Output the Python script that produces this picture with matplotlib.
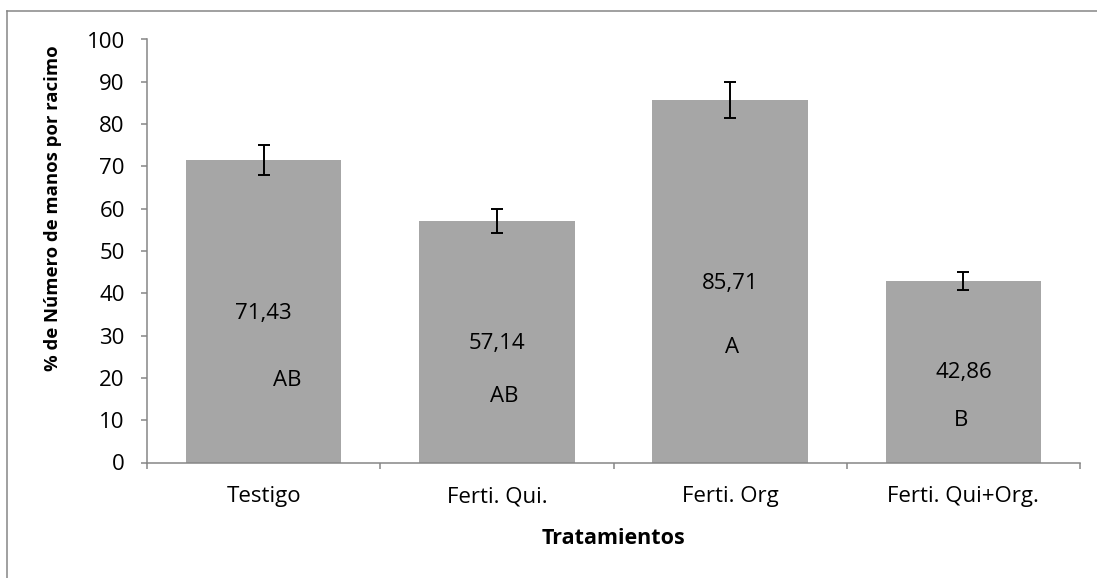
import matplotlib
matplotlib.use('Agg')
import matplotlib.pyplot as plt
from matplotlib.lines import Line2D

# Data
categories = ['Testigo', 'Ferti. Qui.', 'Ferti. Org', 'Ferti. Qui+Org.']
values = [71.43, 57.14, 85.71, 42.86]
errors = [3.57, 2.86, 4.29, 2.14]
value_labels = ['71,43', '57,14', '85,71', '42,86']
letters = ['AB', 'AB', 'A', 'B']

# where the text labels sit inside the bars (x offset, y in data units)
value_pos = [(0.0, 35.3), (0.0, 28.2), (0.0, 42.4), (0.0, 21.2)]
letter_pos = [(0.1, 19.5), (0.03, 15.5), (0.01, 27.3), (-0.01, 10.0)]

plt.rcParams['font.family'] = ['Open Sans', 'DejaVu Sans']
fs = 16

fig = plt.figure(figsize=(10.97, 5.78), dpi=100)
ax = fig.add_axes([147 / 1097, 1 - 462.5 / 578, (1080 - 147) / 1097, (462.5 - 39.5) / 578])

axis_color = '#868686'
x = list(range(len(categories)))
ax.bar(x, values, width=0.667, color='#a6a6a6', zorder=2)
ax.errorbar(x, values, yerr=errors, fmt='none', ecolor='black',
            elinewidth=1.4, capsize=4, capthick=1.4, zorder=3)

for i in x:
    ax.text(i + value_pos[i][0], value_pos[i][1], value_labels[i],
            ha='center', va='center', fontsize=fs, color='black', zorder=4)
    ax.text(i + letter_pos[i][0], letter_pos[i][1], letters[i],
            ha='center', va='center', fontsize=fs, color='black', zorder=4)

ax.set_xlim(-0.5, len(categories) - 0.5)
ax.set_ylim(0, 100)
ax.set_yticks(range(0, 101, 10))
ax.set_xticks(x)
ax.set_xticklabels(categories)
ax.set_xticks([i - 0.5 for i in range(len(categories) + 1)], minor=True)

for s in ['top', 'right']:
    ax.spines[s].set_visible(False)
for s in ['left', 'bottom']:
    ax.spines[s].set_color(axis_color)
    ax.spines[s].set_linewidth(1.1)

ax.tick_params(axis='y', direction='out', length=4, width=1.1, color=axis_color,
               labelsize=fs, pad=12, labelcolor='black')
ax.tick_params(axis='x', which='major', length=0, labelsize=fs, pad=17, labelcolor='black')
ax.tick_params(axis='x', which='minor', direction='out', length=4, width=1.1, color=axis_color)

fig.text(613 / 1097, 1 - 538 / 578, 'Tratamientos', ha='center', va='center',
         fontsize=15.5, fontweight='bold')
fig.text(53 / 1097, 1 - 208 / 578, '% de Número de manos por racimo', ha='center', va='center',
         rotation=90, fontsize=13.3, fontweight='bold')

# chart border (only top and left visible in the crop)
fig.add_artist(Line2D([7 / 1097, 7 / 1097], [0, 1 - 10.5 / 578], transform=fig.transFigure,
                      color=axis_color, linewidth=1.1))
fig.add_artist(Line2D([7 / 1097, 1], [1 - 10.5 / 578, 1 - 10.5 / 578], transform=fig.transFigure,
                      color=axis_color, linewidth=1.1))

fig.savefig('out.png', dpi=100)
